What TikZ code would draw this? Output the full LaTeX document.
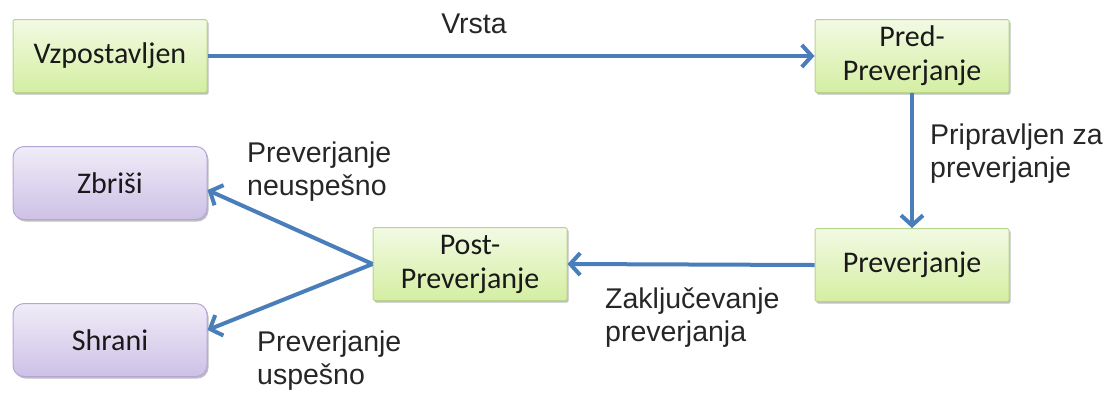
\documentclass[tikz,border=0pt]{standalone}
\usepackage{fontspec}
\setmainfont{Liberation Sans}
\newfontfamily\boxfont{Carlito}
\usetikzlibrary{arrows.meta,shadows,calc}
\definecolor{flow}{HTML}{4A7EBB}
\definecolor{greentop}{HTML}{F2FAE3}
\definecolor{greenbot}{HTML}{D4EEA2}
\definecolor{greenedge}{HTML}{B7D58A}
\definecolor{violettop}{HTML}{F0ECF8}
\definecolor{violetbot}{HTML}{CDC1E6}
\definecolor{violetedge}{HTML}{B5A5D3}
\definecolor{labeltext}{HTML}{262626}
\tikzset{
  statebox/.style={draw=greenedge, line width=1pt, top color=greentop, bottom color=greenbot,
    minimum width=194pt, minimum height=73pt, rounded corners=1.5pt, inner sep=0pt,
    align=center, font=\boxfont\fontsize{30}{34}\selectfont, text=black!90,
    drop shadow={shadow xshift=1.5pt, shadow yshift=-2pt, opacity=0.25, fill=black}},
  endbox/.style={statebox, draw=violetedge, top color=violettop, bottom color=violetbot,
    rounded corners=11pt},
  flowarrow/.style={draw=flow, line width=4pt, -{Straight Barb[length=10pt,width=22pt,line width=4pt]}},
  flowlabel/.style={font=\fontsize{28.5}{33}\selectfont, text=labeltext, inner sep=0pt, align=left}
}
\begin{document}
\begin{tikzpicture}[x=1pt, y=-1pt]
  \useasboundingbox (0,0) rectangle (1107,392);

  % states
  \node[statebox] (vzp)  at (110,56)  {Vzpostavljen};
  \node[statebox] (pred) at (912,56)  {Pred-\\Preverjanje};
  \node[statebox] (prev) at (912,265) {Preverjanje};
  \node[statebox] (post) at (470,264) {Post-\\Preverjanje};
  \node[endbox]   (zbr)  at (110,183) {Zbriši};
  \node[endbox]   (shr)  at (110,340) {Shrani};

  % transitions
  \draw[flowarrow] (vzp.east) -- (pred.west);
  \draw[flowarrow] (pred.south) -- (prev.north);
  \draw[flowarrow] (prev.west) -- (post.east);
  \draw[flowarrow] (post.west) -- ($(zbr.east)+(0,7)$);
  \draw[flowarrow] (post.west) -- ($(shr.east)+(0,-10)$);

  % transition labels (base anchor sits on the last line)
  \node[flowlabel, anchor=base] (lvrsta) at (474,33) {Vrsta};
  \node[flowlabel, anchor=base west] (lprip) at (930,177) {Pripravljen za\\preverjanje};
  \node[flowlabel, anchor=base west] (lzakl) at (605,341) {Zaključevanje\\preverjanja};
  \node[flowlabel, anchor=base west] (lneu)  at (247,195) {Preverjanje\\neuspešno};
  \node[flowlabel, anchor=base west] (luspe) at (257,384) {Preverjanje\\uspešno};
\end{tikzpicture}
\end{document}
